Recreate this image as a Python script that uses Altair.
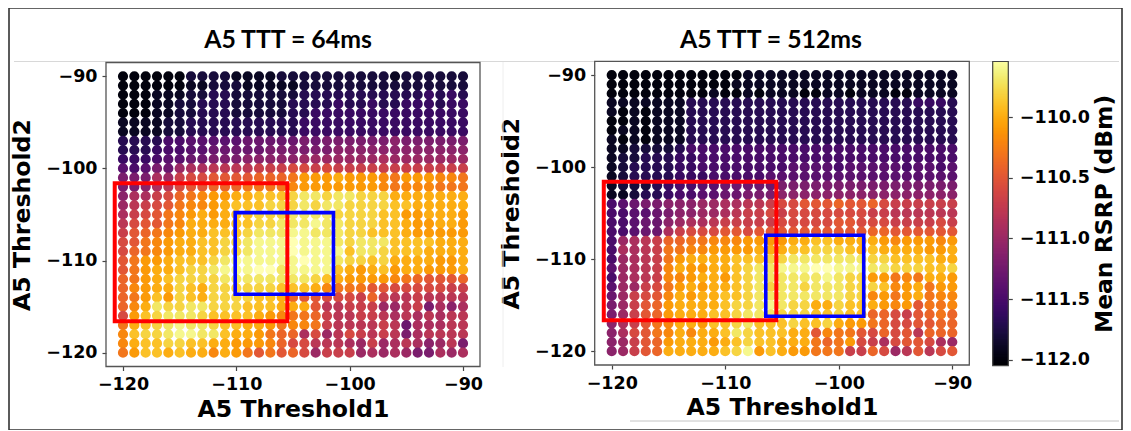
import altair as alt
import numpy as np
import pandas as pd

thresholds1 = list(range(-120, -89))
thresholds2 = list(range(-90, -121, -1))

# Mean RSRP, in tenths of a dB above -112 dBm.
# One row per Threshold2 value (-90 first), one entry per Threshold1 value (-120 first).
rsrp_64 = [
 [0,0,0,0,0,0,2,2,2,2,1,1,1,1,2,2,2,2,2,2,2,2,2,2,1,2,2,2,2,2,2],
 [0,0,0,0,0,0,1,1,2,2,2,1,1,1,1,1,2,2,2,2,2,2,2,2,2,2,2,2,2,2,2],
 [0,0,0,1,1,1,2,2,3,3,2,2,2,2,2,2,3,3,3,3,3,3,3,3,3,3,3,4,3,4,3],
 [0,0,0,1,1,2,2,3,3,3,2,2,2,2,2,3,3,3,3,4,3,3,4,3,3,4,4,4,3,4,4],
 [0,0,0,1,1,2,2,3,3,3,2,2,2,2,2,3,3,4,4,4,4,4,4,4,4,4,4,4,4,4,4],
 [1,1,1,1,2,2,3,3,3,3,3,3,3,3,3,3,4,4,4,4,4,4,4,4,4,4,4,4,4,4,4],
 [1,1,1,1,2,2,3,3,3,3,3,3,3,3,3,3,4,4,4,4,4,4,4,4,4,4,4,4,4,4,4],
 [3,3,3,3,5,5,6,6,6,6,6,7,7,7,7,7,8,7,8,8,8,8,8,8,9,8,8,8,8,8,8],
 [3,3,3,4,5,5,6,6,7,7,7,7,7,8,8,8,8,8,8,9,9,9,9,9,9,9,9,9,9,9,9],
 [4,4,4,5,6,6,7,7,8,8,8,9,9,9,9,9,10,10,10,10,10,10,10,11,10,10,10,10,10,10,10],
 [6,5,6,8,7,10,11,11,12,12,12,12,13,13,13,14,14,13,14,13,13,13,13,13,13,13,13,13,13,13,13],
 [8,8,8,11,10,13,14,14,15,15,15,15,16,16,16,17,19,19,19,20,19,19,19,18,17,19,19,19,18,18,17],
 [8,8,9,11,12,14,15,15,16,16,16,17,17,17,17,18,19,19,19,19,19,19,19,18,17,18,18,18,17,17,17],
 [9,11,11,13,14,16,17,18,19,19,20,20,21,21,21,22,23,23,22,23,23,22,22,22,20,20,20,20,20,20,20],
 [10,12,13,14,15,17,18,18,19,20,21,21,21,22,22,22,23,22,23,23,22,22,22,22,21,21,20,20,20,20,20],
 [11,13,14,15,17,18,19,20,19,20,21,21,22,22,22,23,23,23,23,22,22,22,22,21,21,19,19,20,20,20,19],
 [12,14,15,15,17,18,20,20,20,20,21,21,22,22,23,23,23,24,23,23,22,22,22,21,21,20,19,19,20,20,19],
 [13,15,16,17,18,19,20,20,21,21,21,22,23,23,23,24,24,23,23,23,22,22,21,21,21,20,19,19,19,19,19],
 [14,15,17,18,19,20,20,21,21,22,22,23,24,24,24,25,24,24,24,23,22,23,23,23,21,21,21,21,20,20,20],
 [14,16,17,18,19,20,20,21,21,22,22,23,24,24,24,25,24,24,24,24,21,23,23,22,21,21,21,20,20,20,20],
 [15,17,19,19,20,21,21,21,22,23,24,24,24,24,24,24,25,24,24,23,22,22,21,22,20,20,20,20,19,19,20],
 [15,17,19,20,20,21,22,22,23,24,24,24,25,25,23,24,24,24,24,21,20,19,20,21,19,20,20,19,19,19,20],
 [16,17,19,20,21,22,22,22,22,23,23,23,23,23,23,23,23,22,21,20,19,19,19,19,18,17,16,15,15,15,16],
 [16,18,19,20,20,22,21,20,22,22,22,22,22,22,21,21,21,20,18,17,17,17,15,15,14,14,14,14,14,13,13],
 [16,17,19,21,19,22,21,20,22,22,22,22,21,21,20,16,15,15,14,14,14,13,16,13,12,12,13,12,12,12,12],
 [16,18,20,23,22,22,23,23,22,22,22,21,21,21,20,20,20,15,12,12,13,13,13,10,10,12,13,8,11,9,11],
 [14,19,21,22,23,23,23,22,21,21,21,21,20,19,18,17,17,16,13,12,12,13,13,12,11,12,11,12,11,12,12],
 [17,20,21,22,23,24,23,23,22,21,21,20,20,19,17,18,18,17,13,12,12,12,12,13,12,7,11,11,11,12,12],
 [18,21,22,22,23,24,24,23,23,21,20,20,19,17,16,16,11,14,10,12,14,13,12,13,12,8,11,12,12,12,12],
 [18,20,21,21,22,22,21,21,20,20,19,19,19,18,16,14,14,12,12,12,11,10,13,10,11,12,11,9,10,12,8],
 [17,19,21,21,20,21,20,20,18,20,19,17,15,17,15,16,14,10,13,13,13,10,11,10,11,10,8,8,11,10,11],
]
rsrp_512 = [
 [0,0,0,0,0,0,0,0,0,0,0,0,1,1,1,1,1,1,1,1,1,1,1,1,1,1,1,1,1,1,1],
 [0,0,0,0,0,0,0,0,0,0,0,1,1,1,1,1,1,1,1,1,1,1,1,1,1,1,1,1,1,1,1],
 [0,0,0,0,0,0,0,0,0,1,0,0,1,0,1,1,1,0,0,1,1,0,1,1,1,0,0,1,1,1,1],
 [1,1,1,1,1,1,1,3,3,3,3,3,3,3,3,3,3,3,3,3,3,3,3,3,3,3,3,4,4,4,3],
 [1,0,1,0,1,1,1,3,3,3,3,3,3,3,3,3,3,3,3,3,3,3,3,3,3,3,3,3,3,3,3],
 [0,0,1,0,1,1,1,3,3,3,3,3,3,3,3,3,3,3,3,3,3,3,3,3,3,3,3,3,3,3,3],
 [0,1,1,0,1,1,1,3,3,3,3,3,3,3,3,3,3,3,3,3,3,3,3,3,3,3,3,3,3,3,3],
 [1,0,1,0,1,1,1,3,3,3,3,3,3,3,3,3,3,3,3,3,3,3,3,3,3,3,3,3,3,3,3],
 [1,1,2,2,2,2,3,5,5,5,5,5,5,5,5,5,5,5,5,5,5,5,5,5,5,5,5,5,5,5,5],
 [1,2,2,3,3,3,4,4,5,5,5,5,5,5,5,5,5,5,5,5,5,5,5,5,5,5,5,5,5,5,5],
 [1,2,3,3,3,3,4,4,5,5,5,5,5,5,5,5,6,6,6,6,5,6,6,6,6,6,5,6,6,5,6],
 [1,2,3,3,3,3,4,4,4,5,5,5,5,5,6,6,6,6,6,6,6,6,6,6,6,6,6,6,6,6,6],
 [1,2,2,2,3,4,5,5,6,6,7,7,7,7,7,8,8,8,8,8,8,8,8,8,8,8,8,8,8,8,8],
 [1,1,2,3,3,4,5,5,6,6,7,7,8,8,8,9,9,9,9,9,9,9,9,9,9,9,9,9,9,9,9],
 [5,6,7,8,8,9,9,9,10,10,11,11,12,12,13,14,14,15,15,15,16,15,15,16,14,13,13,13,13,13,13],
 [5,5,6,6,7,8,9,9,10,10,11,12,13,13,14,13,14,14,14,14,14,14,14,13,13,12,12,12,12,12,12],
 [5,5,6,7,7,9,10,11,11,12,13,13,13,13,13,14,14,14,14,14,15,15,14,14,14,13,13,13,13,14,13],
 [5,5,6,7,7,11,13,14,14,14,15,15,14,15,15,15,15,15,15,15,15,15,15,16,16,15,15,15,15,15,15],
 [5,10,11,12,13,16,16,17,17,18,18,18,19,19,19,19,20,20,21,21,20,20,20,20,19,18,19,19,19,18,19],
 [5,11,11,12,13,17,17,18,18,19,19,19,19,20,20,20,21,21,22,22,22,21,20,21,20,20,20,20,19,19,20],
 [5,10,11,12,13,17,19,20,20,20,20,21,21,21,22,22,23,23,23,23,23,23,23,22,22,21,21,21,21,20,20],
 [6,10,11,12,13,18,20,19,19,20,20,21,22,23,23,24,24,24,25,25,24,24,24,23,23,22,22,22,21,21,22],
 [5,10,11,12,13,18,18,19,20,20,19,21,22,23,23,23,23,23,23,24,23,22,22,19,19,17,18,17,20,20,19],
 [6,10,10,13,14,17,19,20,19,20,20,21,22,23,22,23,23,22,23,23,23,22,22,22,21,18,19,20,17,19,19],
 [7,10,13,14,15,18,20,19,20,20,21,21,22,23,23,23,23,23,23,23,23,22,22,18,19,17,19,20,17,18,18],
 [8,10,13,15,16,19,20,20,20,20,21,22,22,23,24,23,22,22,20,20,22,21,21,20,19,18,19,15,17,17,18],
 [8,10,13,15,16,19,20,20,20,21,21,22,23,23,23,22,22,22,21,21,22,21,21,16,16,14,13,15,16,17,16],
 [9,11,13,15,17,18,20,20,19,21,21,22,23,21,21,21,22,21,21,22,20,19,19,17,16,14,14,15,15,16,16],
 [9,11,14,15,17,18,20,18,20,20,21,23,22,21,21,21,20,20,15,18,17,17,15,14,16,14,15,12,16,16,16],
 [9,10,13,15,16,19,20,20,20,19,20,21,22,21,21,20,20,20,17,16,17,19,14,13,11,14,15,15,14,11,10],
 [9,10,13,15,16,20,20,20,20,20,21,22,24,19,21,20,19,19,17,17,17,13,13,16,14,10,12,15,12,14,15],
]
for grid in (rsrp_64, rsrp_512):
    assert len(grid) == 31 and all(len(r) == 31 for r in grid)

# Colour bar ramp
cbar_levels = [round(-112.05 + 0.01 * i, 2) for i in range(252)]

# Rectangles drawn on the panels, in threshold units
red_64 = dict(x=-120.73, x2=-105.5, y=-101.6, y2=-116.6)
blue_64 = dict(x=-110.1, x2=-101.43, y=-104.8, y2=-113.66)
red_512 = dict(x=-120.7, x2=-105.5, y=-101.6, y2=-116.65)
blue_512 = dict(x=-106.43, x2=-97.8, y=-107.4, y2=-116.2)
frame = dict(x=-121.5, x2=-88.5, y=-88.5, y2=-121.5)

OX, OY = 9, 8
W, H = 1113, 422
FONT = "DejaVu Sans"
color_scale = alt.Scale(scheme="inferno", domain=[-112.05, -109.54])


def frame_df(**k):
    return pd.DataFrame([k])


def panel(grid, left, right, top, bottom, red, blue):
    sx = alt.Scale(domain=[-121.5, -88.5], range=[left - OX, right - OX], nice=False, zero=False)
    sy = alt.Scale(domain=[-121.5, -88.5], range=[bottom - OY, top - OY], nice=False, zero=False)
    ticks = [-120, -110, -100, -90]
    df = pd.DataFrame([
        {"t1": x, "t2": y, "rsrp": -112 + grid[j][i] / 10}
        for j, y in enumerate(thresholds2) for i, x in enumerate(thresholds1)
    ])
    common = dict(grid=False, domain=False, values=ticks, format="d", labelFont=FONT,
                  labelFontWeight="bold", labelFontSize=17.5, labelColor="#000", tickColor="#444",
                  tickSize=4, tickWidth=1.2, titleFont=FONT, titleFontWeight="bold",
                  titleFontSize=23.6, titleColor="#000", labelPadding=5)
    dots = alt.Chart(df).mark_circle(size=104, opacity=1).encode(
        x=alt.X("t1:Q", scale=sx, axis=alt.Axis(title="A5 Threshold1", orient="bottom",
                                                offset=-(OY + H - bottom), titlePadding=4, **common)),
        y=alt.Y("t2:Q", scale=sy, axis=alt.Axis(title="A5 Threshold2", orient="left",
                                                offset=-(left - OX), titlePadding=11, **common)),
        color=alt.Color("rsrp:Q", scale=color_scale, legend=None),
    )

    def box(spec, color, width):
        return alt.Chart(frame_df(**spec)).mark_rect(
            filled=False, stroke=color, strokeWidth=width).encode(
            x=alt.X("x:Q", scale=sx, axis=None), x2="x2:Q",
            y=alt.Y("y:Q", scale=sy, axis=None), y2="y2:Q")

    return [dots, box(frame, "#555555", 1.3), box(red, "#ff0000", 4), box(blue, "#0000ff", 3.6)]


def rule(x0, x1, y0, y1, color):
    return alt.Chart(frame_df(a=0)).mark_rule(color=color, strokeWidth=1).encode(
        x=alt.value(x0 - OX), x2=alt.value(x1 - OX), y=alt.value(y0 - OY), y2=alt.value(y1 - OY))


def label(text, x, y, font, size, angle=0):
    return alt.Chart(frame_df(a=0)).mark_text(
        font=font, fontSize=size, fontWeight="bold", color="#000", angle=angle,
        align="center", baseline="middle").encode(
        x=alt.value(x - OX), y=alt.value(y - OY), text=alt.value(text))


# colour bar
cb_sy = alt.Scale(domain=[-112.05, -109.54], range=[365.7 - OY, 61.5 - OY], nice=False, zero=False)
cb_df = pd.DataFrame({"v": cbar_levels,
                      "v2": [min(round(v + 0.03, 3), -109.54) for v in cbar_levels]})
colorbar = alt.Chart(cb_df).mark_rect().encode(
    x=alt.value(992.7 - OX), x2=alt.value(1008.3 - OX),
    y=alt.Y("v:Q", scale=cb_sy, axis=alt.Axis(
        title=None, orient="right", offset=-(W - (1008.3 - OX)), grid=False, domain=False,
        values=[-112, -111.5, -111, -110.5, -110], format=".1f", labelFont=FONT,
        labelFontWeight="bold", labelFontSize=17.5, labelColor="#000", tickColor="#444",
        tickSize=4, tickWidth=1.2, labelPadding=7)),
    y2="v2:Q",
    color=alt.Color("v:Q", scale=color_scale, legend=None),
)
colorbar_frame = alt.Chart(frame_df(y=-112.05, y2=-109.54)).mark_rect(
    filled=False, stroke="#444444", strokeWidth=1.2).encode(
    x=alt.value(992.7 - OX), x2=alt.value(1008.3 - OX),
    y=alt.Y("y:Q", scale=cb_sy, axis=None), y2="y2:Q")

layers = [
    rule(14, 1119, 61.5, 61.5, "#d8d8d8"),
    rule(503, 503, 62, 367, "#eeeeee"),
    rule(630, 1119, 421, 421, "#c4c4c4"),
] + panel(rsrp_64, 106, 480, 62.5, 366.5, red_64, blue_64) + panel(
    rsrp_512, 594.7, 969.3, 61.3, 365, red_512, blue_512) + [
    colorbar, colorbar_frame,
    label("A5 TTT = 64ms", 288, 41, "Lato", 24.8),
    label("A5 TTT = 512ms", 771, 41, "Lato", 24.8),
    label("Mean RSRP (dBm)", 1105, 214, FONT, 23.4, angle=270),
]

chart = alt.layer(*layers).resolve_scale(x="independent", y="independent", color="shared").properties(
    width=W, height=H, padding={"left": 1, "top": 0, "right": 1, "bottom": 0},
    autosize=alt.AutoSizeParams(type="none"), background="white",
).configure_view(stroke="#333333", strokeWidth=1.6)

chart.save("out.html", embed_options={"renderer": "svg", "actions": False})
